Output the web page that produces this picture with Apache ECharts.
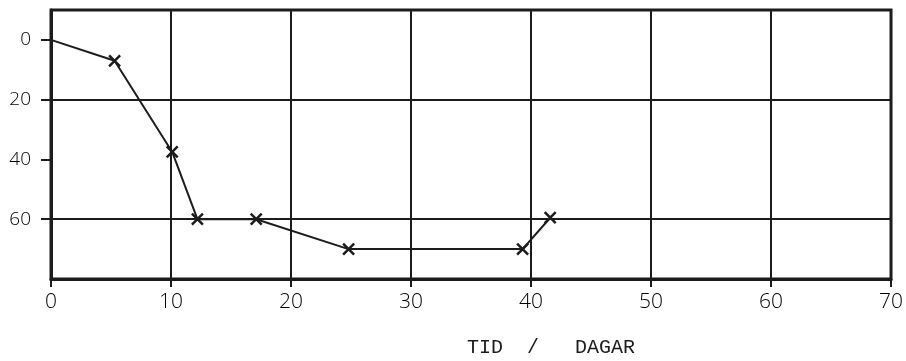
<!DOCTYPE html>
<html>
<head>
<meta charset="utf-8">
<script src="https://cdn.jsdelivr.net/npm/echarts@6/dist/echarts.min.js"></script>
<style>
  html, body { margin: 0; padding: 0; background: #fff; }
  #chart { width: 906px; height: 361px; }
</style>
</head>
<body>
<div id="chart"></div>
<script>
// Measured points: time in days vs. depth (axis runs downward)
const days  = [0, 5.3, 10.1, 12.2, 17.1, 24.8, 39.3, 41.6];
const depth = [0, 7, 37.5, 60, 60, 70, 70, 59.5];

// Axis ranges and labelled ticks
const xRange = [0, 70];
const xStep = 10;
const yRange = [-10, 80];
const yStep = 10;
const yLabelled = [0, 20, 40, 60];
const xTitle = 'TID  /   DAGAR';

const ink = '#1c1c1c';
const labelFont = '"Open Sans", "Noto Sans", sans-serif';

const points = days.map((d, i) => ({
  value: [d, depth[i]],
  symbol: i === 0 ? 'none' : 'path://M0,0L10,10M10,0L0,10'
}));

const chart = echarts.init(document.getElementById('chart'), null, { renderer: 'canvas' });
chart.setOption({
  animation: false,
  backgroundColor: '#fff',
  title: {
    text: xTitle,
    left: 467,
    top: 338,
    padding: 0,
    textStyle: {
      fontFamily: '"Liberation Mono", "DejaVu Sans Mono", monospace',
      fontSize: 20,
      fontWeight: 'normal',
      color: ink
    }
  },
  grid: {
    left: 51, right: 11, top: 10, bottom: 82,
    show: true,
    borderColor: ink,
    borderWidth: 3,
    backgroundColor: 'transparent'
  },
  xAxis: {
    type: 'value',
    min: xRange[0], max: xRange[1], interval: xStep,
    axisLine: { show: true, onZero: false, lineStyle: { color: ink, width: 3 } },
    axisTick: { show: true, length: 8, lineStyle: { color: ink, width: 2 } },
    axisLabel: {
      margin: 13,
      fontSize: 21,
      fontFamily: labelFont,
      fontWeight: 300,
      color: '#000'
    },
    splitLine: { show: true, lineStyle: { color: ink, width: 2 } }
  },
  yAxis: {
    type: 'value',
    inverse: true,
    min: yRange[0], max: yRange[1], interval: yStep,
    axisLine: { show: true, onZero: false, lineStyle: { color: ink, width: 3 } },
    axisTick: {
      show: true, length: 10, customValues: yLabelled,
      lineStyle: { color: ink, width: 2 }
    },
    axisLabel: {
      margin: 20,
      fontSize: 19,
      fontFamily: labelFont,
      fontWeight: 300,
      color: '#000',
      customValues: yLabelled
    },
    splitLine: {
      show: true,
      // lines every 10 units; only the multiples of 20 are drawn
      lineStyle: { color: ['rgba(0,0,0,0)', ink], width: 2 }
    }
  },
  series: [{
    type: 'line',
    data: points,
    symbolSize: 11,
    lineStyle: { color: ink, width: 2 },
    itemStyle: { color: ink, borderColor: ink, borderWidth: 2.5 },
    z: 5
  }]
});
</script>
</body>
</html>
